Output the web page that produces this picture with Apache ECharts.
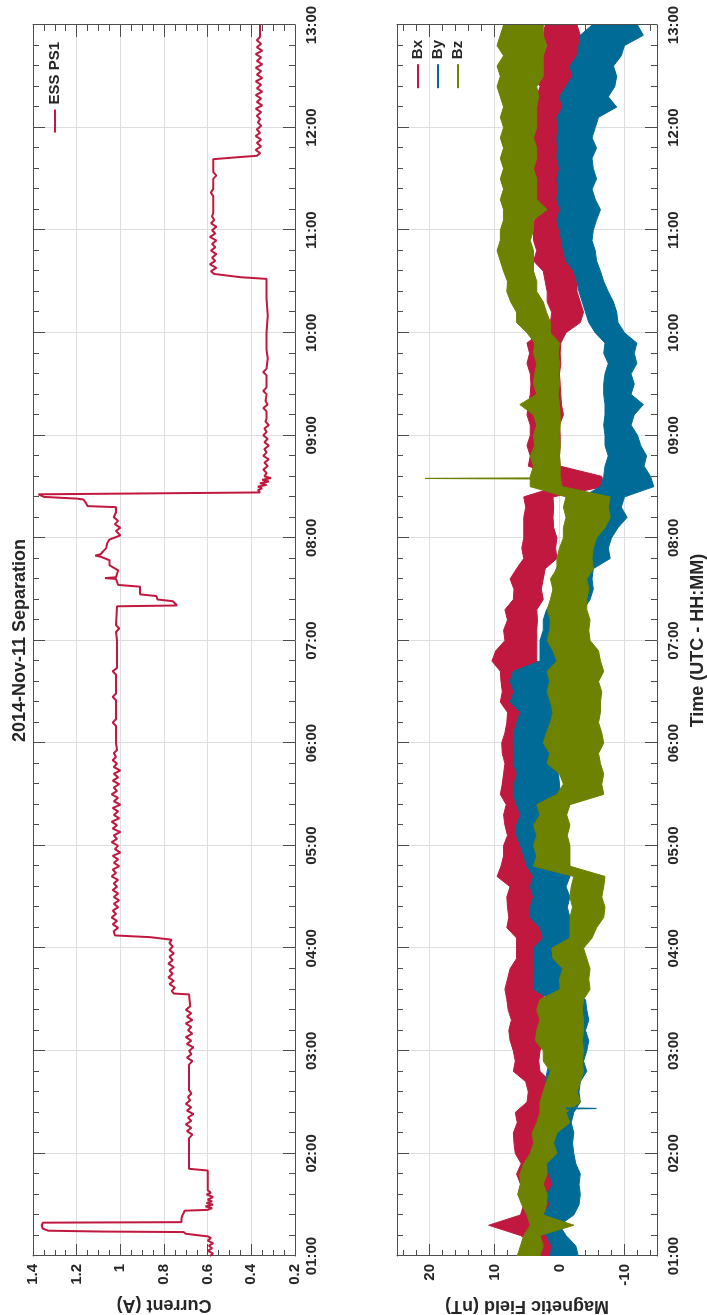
<!DOCTYPE html>
<html>
<head>
<meta charset="utf-8">
<title>2014-Nov-11 Separation</title>
<script src="https://cdn.jsdelivr.net/npm/echarts@6.0.0/dist/echarts.min.js"></script>
<style>
  html, body { margin: 0; padding: 0; background: #fff; overflow: hidden; }
  /* chart is laid out upright (time left->right) then turned a quarter turn */
  #main {
    position: absolute; left: 0; top: 0;
    width: 1315px; height: 707px;
    transform-origin: 0 0;
    transform: translateY(1315px) rotate(-90deg);
  }
</style>
</head>
<body>
<div id="main"></div>
<script>
// ---- data (time in minutes after 00:00 UTC) ----
// ESS PS1 current, [minute, amps]
var currentPts = [
  [60,0.59],[61.5,0.575],[63,0.6],[64.5,0.58],[66,0.595],[67.5,0.575],[69,0.6],[70.5,0.585],[71.5,0.6],
  [72,0.635],[73,0.7],[74,0.71],[74.3,1.08],[74.8,1.33],[76,1.355],[78,1.36],[79.5,1.355],[79.8,0.72],
  [82,0.72],[84,0.715],[86.5,0.705],[87,0.6],[88,0.58],[89,0.61],[90,0.575],[91,0.605],[92,0.58],[93,0.6],
  [94.5,0.575],[96,0.605],[97,0.585],[98.5,0.6],[100,0.6],[110,0.6],[111,0.685],[129,0.685],
  [131,0.67],[133,0.695],[135,0.675],[137,0.7],[139,0.675],[141,0.69],[143,0.665],[145,0.695],[147,0.675],
  [149,0.7],[151,0.68],[153,0.69],[155,0.675],[157,0.685],[172,0.685],[174,0.67],[176,0.695],[178,0.675],
  [180,0.685],[182,0.665],[184,0.695],[186,0.675],[188,0.7],[190,0.67],[192,0.69],[194,0.675],[196,0.7],
  [198,0.67],[200,0.695],[202,0.675],[204,0.7],[206,0.68],[207,0.685],[213,0.685],
  [213.5,0.755],[215,0.765],[217,0.75],[219,0.775],[221,0.755],[223,0.78],[225,0.76],[227,0.775],[229,0.755],
  [231,0.78],[233,0.76],[235,0.775],[237,0.755],[239,0.775],[241,0.76],[243,0.775],[245,0.765],
  [246.5,0.865],[247.5,1.025],
  [250,1.03],[252,1.01],[254,1.035],[256,1.015],[258,1.04],[260,1.02],[262,1.035],[264,1.01],[266,1.03],
  [268,1.005],[270,1.03],[272,1.01],[274,1.035],[276,1.015],[278,1.03],[280,1.01],[282,1.04],[284,1.02],
  [286,1.035],[288,1.005],[290,1.03],[292,1.01],[294,1.035],[296,1.0],[298,1.025],[300,1.01],[302,1.04],
  [304,1.015],[306,1.03],[308,1.0],[310,1.035],[312,1.015],[314,1.04],[316,1.005],[318,1.03],[320,1.01],
  [322,1.035],[324,1.0],[326,1.03],[328,1.01],[330,1.04],[332,1.015],[334,1.03],[336,1.005],[338,1.035],
  [340,1.01],[342,1.03],[344,1.0],[346,1.03],[348,1.015],[350,1.035],[352,1.02],[354,1.03],[356,1.015],
  [360,1.02],[370,1.02],[372,1.035],[374,1.02],[385,1.02],[387,1.035],[389,1.02],[400,1.02],[402,1.035],
  [404,1.015],[420,1.015],[425,1.02],[427,1.005],[429,1.02],[440,1.015],
  [440.5,0.74],[443,0.76],[444,0.83],[446,0.835],[447,0.91],[451.5,0.91],[452.5,1.01],[456,1.02],
  [456.5,1.07],[457,1.02],[461,1.01],[464,1.05],[467,1.05],[469,1.09],[469.7,1.115],[470.5,1.09],[472,1.08],
  [474,1.065],[477,1.06],[479,1.05],[481.5,1.0],[484,1.02],[486,1.0],[488,1.025],[490,1.01],[492,1.03],
  [495,1.02],[498,1.02],[498.6,1.15],[501,1.16],[502.5,1.17],[503,1.2],[504,1.35],[505.5,1.375],[506.4,1.375],
  [506.6,0.36],[508,0.37],[509,0.35],[510,0.37],[511,0.33],[512,0.36],[513,0.32],[514,0.35],[515,0.31],
  [516,0.34],[518,0.33],[520,0.345],[522,0.325],[524,0.34],[526,0.32],[528,0.345],[530,0.33],[532,0.34],
  [534,0.32],[536,0.34],[538,0.325],[540,0.345],[542,0.33],[544,0.34],[546,0.32],[548,0.335],[550,0.33],
  [554,0.33],[556,0.345],[558,0.325],[560,0.335],[564,0.33],[566,0.345],[568,0.33],[575,0.33],[577,0.345],
  [579,0.33],[585,0.325],[590,0.33],[600,0.33],[610,0.325],[620,0.33],[631.5,0.33],
  [632.5,0.45],[634.4,0.57],[636,0.585],[638,0.56],[640,0.59],[642,0.565],[644,0.58],[646,0.56],[648,0.585],
  [650,0.565],[652,0.58],[654,0.56],[656,0.59],[658,0.565],[660,0.58],[662,0.56],[664,0.585],[666,0.57],
  [668,0.58],[670,0.575],[680,0.575],[682,0.585],[684,0.575],[690,0.575],[692,0.56],[694,0.575],[701.5,0.575],
  [702.5,0.48],[703.5,0.375],[705,0.36],[707,0.38],[709,0.355],[711,0.375],[713,0.355],[715,0.38],[717,0.36],
  [719,0.375],[721,0.355],[723,0.37],[725,0.36],[727,0.375],[729,0.355],[731,0.38],[733,0.35],[735,0.375],
  [737,0.355],[739,0.38],[741,0.35],[743,0.375],[745,0.355],[747,0.38],[749,0.35],[751,0.375],[753,0.355],
  [755,0.38],[757,0.35],[759,0.375],[761,0.355],[763,0.38],[765,0.35],[767,0.375],[769,0.355],[771,0.375],
  [773,0.36],[780,0.36]
];

// magnetic field: time grid and lower / upper edge of each noisy trace (nT)
var magTime = [
  60,66,72,78,84,90,96,102,108,114,
  120,126,132,138,144,150,156,162,168,174,
  180,186,192,198,204,210,216,222,228,234,
  240,246,252,258,264,270,276,282,288,294,
  300,306,312,318,324,330,336,342,348,354,
  360,366,372,378,384,390,396,402,408,414,
  420,426,432,438,444,450,456,462,468,474,
  480,486,492,498,504,510,516,522,528,534,
  540,546,552,558,564,570,576,582,588,594,
  600,606,612,618,624,630,636,642,648,654,
  660,666,672,678,684,690,696,702,708,714,
  720,726,732,738,744,750,756,762,768,774,
  780
];
var bxLo = [
  1.2,1.0,2.0,3.5,0.8,0.4,0.8,0.4,1.0,0.6,
  3.0,3.2,2.5,2.8,2.5,1.4,1.6,1.4,3.0,3.2,
  3.0,2.5,3.0,2.8,2.5,2.6,2.0,1.9,2.2,2.5,
  2.2,2.5,3.0,3.0,3.2,3.0,3.5,3.5,3.5,3.8,
  3.5,3.5,3.8,3.5,3.5,3.5,3.2,3.6,3.0,3.2,
  2.5,2.5,2.5,2.5,2.0,1.9,1.8,1.4,3.5,3.5,
  3.5,3.5,3.4,3.5,2.5,2.8,2.5,2.2,0.4,0.6,
  0.4,0.9,1.0,0.9,1.0,-6.8,-6.5,-0.1,0.0,-0.1,
  -0.1,0.0,-0.6,-0.3,-0.2,-0.1,0.0,-0.2,-0.1,-0.2,
  -1.0,-3.2,-3.7,-3.2,-2.7,-2.7,-2.2,-1.6,-1.6,-1.2,
  -0.6,-0.3,-0.1,-0.6,-0.4,-0.6,-0.2,-0.6,-0.4,-0.6,
  -0.6,-0.3,-1.1,-0.8,-1.1,-2.7,-2.2,-3.2,-3.0,-3.2,
  -2.7
];
var bxHi = [
  3.4,3.6,6.0,10.9,6.0,5.5,6.4,6.0,6.6,5.9,
  6.8,7.0,7.1,6.5,6.8,5.0,4.8,5.2,7.1,6.8,
  7.1,7.6,7.8,7.4,7.9,8.1,8.4,8.0,7.6,6.6,
  6.6,6.6,8.1,7.8,8.0,8.1,7.6,9.6,9.0,8.6,
  8.6,8.0,8.4,8.6,8.2,9.1,8.8,8.6,8.4,8.8,
  8.9,8.4,8.1,8.0,9.1,8.8,9.0,9.1,10.4,9.8,
  8.4,8.6,8.0,8.4,7.1,7.0,7.6,6.6,5.5,5.8,
  5.5,5.5,5.5,5.2,5.5,0.4,0.0,4.8,4.5,5.0,
  4.5,4.5,5.0,4.8,4.5,4.4,4.5,5.0,4.6,5.0,
  3.0,1.4,1.2,1.9,1.9,2.2,2.5,4.0,3.5,4.0,
  4.0,3.8,3.0,4.0,4.0,3.6,4.0,3.8,4.2,4.0,
  3.8,4.0,3.5,3.5,3.0,4.0,3.0,2.5,1.9,2.5,
  2.2
];
var byLo = [
  -2.9,-2.5,-1.0,0.0,-2.2,-3.0,-3.2,-3.0,-3.2,-2.5,
  -2.2,-2.0,-2.2,-1.8,-2.2,-3.2,-3.0,-3.2,-4.2,-3.7,
  -4.2,-4.5,-4.0,-4.5,-4.2,-4.0,-1.0,-1.0,-1.5,-1.6,
  -1.6,-1.6,-1.6,-1.6,-1.2,-1.6,-1.0,-1.6,-1.6,-1.0,
  0.0,0.5,1.0,1.4,0.0,-0.1,0.0,0.2,0.4,0.4,
  1.4,0.8,0.5,-0.1,0.4,0.4,0.5,0.4,-1.6,-1.6,
  -1.6,-2.2,-3.7,-3.7,-4.7,-5.2,-5.0,-5.2,-7.8,-7.5,
  -8.0,-9.0,-10.4,-9.5,-10.0,-14.5,-14.0,-13.0,-13.4,-12.5,
  -12.0,-11.0,-11.5,-12.9,-11.0,-11.5,-11.0,-11.9,-11.5,-11.9,
  -10.0,-9.0,-8.8,-8.3,-7.5,-6.8,-6.3,-5.7,-5.5,-5.0,
  -5.2,-5.7,-6.3,-5.5,-5.0,-5.7,-5.2,-5.0,-5.7,-5.0,
  -5.5,-6.0,-8.8,-7.5,-8.5,-8.8,-8.3,-9.5,-10.0,-12.9,
  -12.0
];
var byHi = [
  1.4,1.2,2.0,3.5,2.5,1.5,2.0,1.0,1.6,1.9,
  1.9,1.5,1.4,1.2,1.4,2.5,2.0,2.2,1.9,1.5,
  1.9,1.4,1.2,1.4,1.0,1.4,4.0,4.0,3.8,4.0,
  4.0,2.5,3.0,4.5,4.5,4.0,4.5,4.0,5.0,5.5,
  6.0,6.6,6.6,6.0,6.6,7.1,7.0,6.5,7.1,7.0,
  7.1,7.0,6.6,6.0,7.6,7.0,7.6,7.1,3.0,3.0,
  3.0,2.5,2.5,2.0,0.9,1.0,0.9,0.5,-0.6,-0.6,
  -1.6,-2.7,-2.7,-3.0,-3.5,-6.3,-6.8,-7.0,-7.5,-7.0,
  -7.0,-6.8,-7.0,-7.0,-6.8,-6.8,-7.0,-7.5,-6.8,-7.0,
  -5.5,-4.5,-4.0,-3.5,-3.0,-2.7,-2.2,-1.0,-0.6,-0.3,
  0.0,0.4,-0.1,0.4,0.2,0.4,0.0,0.4,0.3,0.4,
  0.2,0.4,-0.5,0.0,-1.0,-2.0,-1.6,-2.7,-3.0,-3.2,
  -5.0
];
var bzLo = [
  3.0,2.5,3.0,-2.2,2.5,2.0,1.9,2.5,1.9,2.0,
  0.4,0.9,0.4,-1.6,-1.0,-3.2,-2.7,-3.2,-3.7,-3.5,
  -3.7,-3.5,-3.7,-3.7,-3.5,-3.7,-4.7,-4.5,-4.7,-4.2,
  -3.7,-5.0,-5.7,-6.8,-7.0,-6.5,-6.8,-7.0,-1.6,-1.6,
  -1.6,-1.2,-1.6,-1.1,-1.6,-6.8,-6.5,-6.8,-6.3,-6.0,
  -6.8,-6.5,-6.0,-6.3,-6.3,-6.5,-6.0,-6.8,-6.3,-6.0,
  -4.7,-4.5,-4.7,-4.2,-4.2,-4.5,-4.2,-5.2,-5.0,-5.2,
  -5.7,-7.0,-7.8,-7.5,-7.8,-0.4,-0.1,-0.1,0.0,-0.1,
  0.0,-0.1,-0.1,0.0,0.2,0.0,0.1,0.0,0.2,0.0,
  1.4,1.4,2.0,2.5,3.5,3.5,4.0,4.0,4.0,4.5,
  4.0,4.0,1.9,3.5,3.5,3.5,4.0,3.5,3.5,4.0,
  3.5,3.5,3.5,3.2,3.5,2.5,2.5,2.5,2.0,2.5,
  2.5
];
var bzHi = [
  6.5,6.0,5.5,4.5,5.0,5.8,6.4,6.0,6.1,5.5,
  4.5,4.0,4.2,3.5,3.0,3.0,2.5,2.0,1.4,2.5,
  2.5,3.7,3.5,3.0,3.5,3.0,-0.1,0.0,-0.5,1.0,
  1.2,-1.6,-1.6,-1.6,-2.0,-1.6,-1.8,-2.2,4.0,3.5,
  4.0,3.5,4.0,3.0,3.5,0.4,-0.6,0.0,1.9,1.5,
  2.5,2.0,1.4,1.0,1.4,1.9,1.5,1.9,0.4,1.0,
  1.9,1.5,1.4,1.9,1.4,1.0,1.4,0.4,0.4,0.0,
  -0.6,-0.6,-1.0,-0.6,-1.0,4.5,4.5,4.0,4.5,3.8,
  4.0,3.5,4.0,6.1,3.5,4.0,3.8,3.5,4.0,3.8,
  5.0,6.6,6.6,7.5,8.1,8.0,8.6,9.1,9.6,9.1,
  9.1,8.6,8.6,9.1,8.6,9.1,8.6,9.1,8.6,9.1,
  8.6,9.1,8.6,9.1,9.6,9.1,9.6,8.6,9.6,9.1,
  8.6
];
// single-sample spikes
var bySpikeTime = [146.0, 146.3, 146.6];
var bySpikeVal  = [-1.0, -5.7, -1.0];
var bzSpikeTime = [514.5, 514.8, 515.1];
var bzSpikeVal  = [2.0, 20.7, 2.0];

var currentTicks = [0.2, 1.4, 0.2];   // min, max, step
var fieldRange = [-15, 25];
var fieldMajorTicks = [-10, 0, 10, 20];
var fieldMinorTicks = [-14, -12, -8, -6, -4, -2, 2, 4, 6, 8, 12, 14, 16, 18, 22, 24];

// ---- style ----
var FONT = "'Liberation Sans', Arial, sans-serif";
var TXT = '#262626';
var AXIS = '#4d4d4d';
var GRIDC = '#dedede';
var RED = '#c0183e', BLUE = '#006b96', GREEN = '#6c8200';

function hhmm(v) {
  var h = Math.round(v / 60);
  return (h < 10 ? '0' : '') + h + ':00';
}
var labelFont = { color: TXT, fontSize: 15, fontWeight: 'bold', fontFamily: FONT };
var nameFont = { color: TXT, fontSize: 18, fontWeight: 'bold', fontFamily: FONT };

function timeAxis(grid, pos, primary, name) {
  return {
    type: 'value', gridIndex: grid, position: pos,
    min: 60, max: 780, interval: 60,
    axisLine: { show: true, onZero: false, lineStyle: { color: AXIS, width: 1 } },
    axisTick: { show: true, inside: true, length: 12, lineStyle: { color: AXIS } },
    minorTick: { show: true, splitNumber: 5, length: 6, lineStyle: { color: AXIS } },
    splitLine: { show: primary, lineStyle: { color: GRIDC, width: 1 } },
    axisLabel: Object.assign({ show: primary, formatter: hhmm, margin: 9 }, labelFont),
    name: name || '', nameLocation: 'middle', nameGap: 32, nameTextStyle: nameFont
  };
}
function valAxis(grid, pos, primary, extra) {
  return Object.assign({
    type: 'value', gridIndex: grid, position: pos,
    axisLine: { show: true, onZero: false, lineStyle: { color: AXIS, width: 1 } },
    axisTick: { show: true, inside: true, length: 12, lineStyle: { color: AXIS } },
    splitLine: { show: primary, lineStyle: { color: GRIDC, width: 1 } },
    nameLocation: 'middle', nameRotate: 90, nameGap: 32, nameTextStyle: nameFont
  }, extra);
}
// tick-only helper axis for the field panel (minor ticks every 2 nT)
function fieldMinorAxis(pos) {
  return {
    type: 'value', gridIndex: 1, position: pos,
    min: fieldRange[0], max: fieldRange[1],
    axisLine: { show: false, onZero: false },
    axisTick: { show: true, inside: true, length: 6, customValues: fieldMinorTicks,
                lineStyle: { color: AXIS } },
    axisLabel: { show: false }, splitLine: { show: false }
  };
}

function band(name, lo, hi, color) {
  return {
    name: name, type: 'custom', xAxisIndex: 2, yAxisIndex: 2,
    itemStyle: { color: color }, silent: true, clip: true,
    data: [[magTime[0], lo[0]]],
    renderItem: function (params, api) {
      var pts = [];
      for (var i = 0; i < magTime.length; i++) pts.push(api.coord([magTime[i], lo[i]]));
      for (var j = magTime.length - 1; j >= 0; j--) pts.push(api.coord([magTime[j], hi[j]]));
      return { type: 'polygon', shape: { points: pts },
               style: { fill: color, stroke: color, lineWidth: 1 } };
    }
  };
}
function spike(name, ts, vs, color) {
  return {
    name: name, type: 'line', xAxisIndex: 2, yAxisIndex: 2, symbol: 'none',
    data: ts.map(function (t, i) { return [t, vs[i]]; }),
    lineStyle: { color: color, width: 1.2 }, itemStyle: { color: color }, silent: true
  };
}

var chart = echarts.init(document.getElementById('main'), null, { renderer: 'canvas' });
chart.setOption({
  animation: false,
  backgroundColor: '#fff',
  grid: [
    { left: 59, right: 25, top: 33, height: 262, outerBoundsMode: 'none' },
    { left: 59, right: 25, top: 397, height: 260, outerBoundsMode: 'none' }
  ],
  graphic: [{
    type: 'text', x: 674.5, y: 20,
    style: { text: '2014-Nov-11 Separation', font: 'bold 18px ' + FONT, fill: TXT,
             align: 'center', verticalAlign: 'middle' }
  }],
  legend: [
    { data: ['ESS PS1'], right: 42, top: 45, orient: 'horizontal', icon: 'rect',
      itemWidth: 23, itemHeight: 2, itemGap: 0, padding: 0,
      textStyle: Object.assign({ lineHeight: 20 }, labelFont) },
    { data: ['Bx', 'By', 'Bz'], right: 40, top: 408, orient: 'vertical', icon: 'rect',
      itemWidth: 24, itemHeight: 2, itemGap: 0, padding: 0,
      textStyle: Object.assign({ lineHeight: 20 }, labelFont) }
  ],
  xAxis: [
    timeAxis(0, 'bottom', true),
    timeAxis(0, 'top', false),
    timeAxis(1, 'bottom', true, 'Time (UTC - HH:MM)'),
    timeAxis(1, 'top', false)
  ],
  yAxis: [
    valAxis(0, 'left', true, {
      min: currentTicks[0], max: currentTicks[1], interval: currentTicks[2],
      name: 'Current (A)',
      minorTick: { show: true, splitNumber: 4, length: 6, lineStyle: { color: AXIS } },
      axisLabel: Object.assign({ margin: 8 }, labelFont)
    }),
    valAxis(0, 'right', false, {
      min: currentTicks[0], max: currentTicks[1], interval: currentTicks[2],
      minorTick: { show: true, splitNumber: 4, length: 6, lineStyle: { color: AXIS } },
      axisLabel: { show: false }
    }),
    valAxis(1, 'left', true, {
      min: fieldRange[0], max: fieldRange[1], splitNumber: 4,
      name: 'Magnetic Field (nT)',
      axisTick: { show: true, inside: true, length: 12, customValues: fieldMajorTicks,
                  lineStyle: { color: AXIS } },
      axisLabel: Object.assign({ margin: 8, customValues: fieldMajorTicks }, labelFont)
    }),
    valAxis(1, 'right', false, {
      min: fieldRange[0], max: fieldRange[1], splitNumber: 4,
      axisTick: { show: true, inside: true, length: 12, customValues: fieldMajorTicks,
                  lineStyle: { color: AXIS } },
      axisLabel: { show: false }
    }),
    fieldMinorAxis('left'),
    fieldMinorAxis('right')
  ],
  series: [
    {
      name: 'ESS PS1', type: 'line', xAxisIndex: 0, yAxisIndex: 0,
      symbol: 'none', data: currentPts,
      lineStyle: { color: RED, width: 2 }, itemStyle: { color: RED }
    },
    band('Bx', bxLo, bxHi, RED),
    band('By', byLo, byHi, BLUE),
    spike('By', bySpikeTime, bySpikeVal, BLUE),
    band('Bz', bzLo, bzHi, GREEN),
    spike('Bz', bzSpikeTime, bzSpikeVal, GREEN)
  ]
});
</script>
</body>
</html>
